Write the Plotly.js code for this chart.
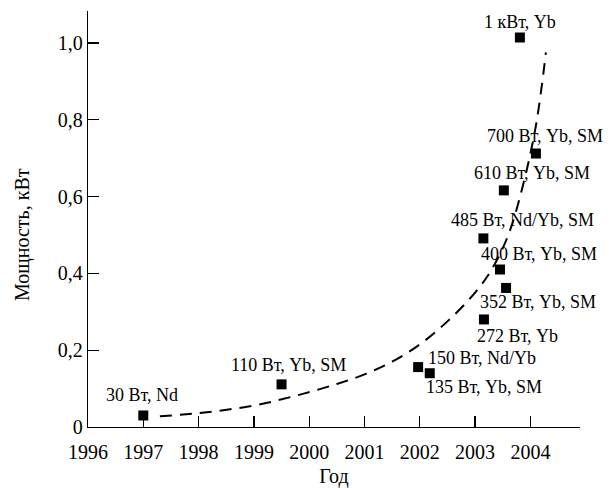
<!DOCTYPE html>
<html>
<head>
<meta charset="utf-8">
<script src="https://cdn.plot.ly/plotly-3.0.1.min.js"></script>
<style>html,body{margin:0;padding:0;background:#fff;}#chart{width:610px;height:488px;}</style>
</head>
<body>
<div id="chart"></div>
<script>
// Data points (year, power in kW) and their labels
const years = [1997.0, 1999.5, 2001.97, 2002.18, 2003.16, 2003.56, 2003.45, 2003.15, 2003.52, 2004.10, 2003.81];
const power = [0.030, 0.111, 0.156, 0.140, 0.280, 0.362, 0.410, 0.491, 0.616, 0.712, 1.014];
const labels = ["30 Вт, Nd", "110 Вт, Yb, SM", "150 Вт, Nd/Yb", "135 Вт, Yb, SM", "272 Вт, Yb",
                "352 Вт, Yb, SM", "400 Вт, Yb, SM", "485 Вт, Nd/Yb, SM", "610 Вт, Yb, SM",
                "700 Вт, Yb, SM", "1 кВт, Yb"];

// Dashed trend curve
const trendYears = [1997.3, 1998.0, 1999.0, 1999.8, 2000.5, 2001.0, 2001.5, 2002.0, 2002.5, 2003.0, 2003.3, 2003.6, 2003.85, 2004.1, 2004.28];
const trendPower = [0.028, 0.036, 0.056, 0.083, 0.112, 0.137, 0.170, 0.215, 0.275, 0.350, 0.410, 0.500, 0.620, 0.785, 0.975];

// Axis ticks
const xTicks = [1996, 1997, 1998, 1999, 2000, 2001, 2002, 2003, 2004];
const xTickText = ["1996", "1997", "1998", "1999", "2000", "2001", "2002", "2003", "2004"];
const yTicks = [0, 0.2, 0.4, 0.6, 0.8, 1.0];
const yTickText = ["0", "0,2", "0,4", "0,6", "0,8", "1,0"];

// Label placement (pixel offsets relative to each point)
const labelPlacement = [
  {anchor: "center", dx: -1, dy: 20},
  {anchor: "center", dx: 7, dy: 19},
  {anchor: "left", dx: 8, dy: 9},
  {anchor: "left", dx: -6, dy: -14},
  {anchor: "left", dx: -9, dy: -17},
  {anchor: "left", dx: -28, dy: -14},
  {anchor: "left", dx: -21, dy: 16},
  {anchor: "left", dx: -34, dy: 18},
  {anchor: "left", dx: -32, dy: 17},
  {anchor: "left", dx: -51, dy: 18},
  {anchor: "center", dx: 0, dy: 16}
];

const FONT = "'Liberation Serif', 'Times New Roman', Times, serif";

const traces = [
  {
    x: trendYears, y: trendPower, type: "scatter", mode: "lines",
    line: {color: "#000", width: 2, dash: "12px,8px", shape: "spline"},
    hoverinfo: "skip"
  },
  {
    x: years, y: power, type: "scatter", mode: "markers",
    marker: {symbol: "square", size: 10, color: "#000"}
  }
];

const annotations = labels.map((t, i) => ({
  x: years[i], y: power[i], xref: "x", yref: "y", text: t, showarrow: false,
  xanchor: labelPlacement[i].anchor, yanchor: "middle",
  xshift: labelPlacement[i].dx, yshift: labelPlacement[i].dy,
  font: {family: FONT, size: 18, color: "#000"}
}));

annotations.push({
  xref: "paper", yref: "y", x: 0, y: 0.5, xshift: -65, text: "Мощность, кВт",
  textangle: -90, showarrow: false, xanchor: "center", yanchor: "middle",
  font: {family: FONT, size: 20, color: "#000"}
});

const layout = {
  width: 610, height: 488,
  margin: {l: 88, r: 30, t: 11, b: 61},
  paper_bgcolor: "#fff", plot_bgcolor: "#fff",
  showlegend: false,
  separators: ", ",
  font: {family: FONT, size: 20, color: "#000"},
  xaxis: {
    range: [1996, 2004.897], tickvals: xTicks, ticktext: xTickText,
    ticks: "inside", ticklen: 11, tickwidth: 1.3, tickcolor: "#000",
    showline: true, linecolor: "#000", linewidth: 1.3, showgrid: false, zeroline: false,
    ticklabelstandoff: 7,
    tickfont: {family: FONT, size: 20, color: "#000"},
    title: {text: "Год", font: {family: FONT, size: 20, color: "#000"}, standoff: 13}
  },
  yaxis: {
    range: [0, 1.083], tickvals: yTicks, ticktext: yTickText,
    ticks: "inside", ticklen: 11, tickwidth: 1.3, tickcolor: "#000",
    showline: true, linecolor: "#000", linewidth: 1.3, showgrid: false, zeroline: false,
    tickfont: {family: FONT, size: 20, color: "#000"}
  },
  annotations: annotations
};

Plotly.newPlot("chart", traces, layout, {staticPlot: true});
</script>
</body>
</html>
